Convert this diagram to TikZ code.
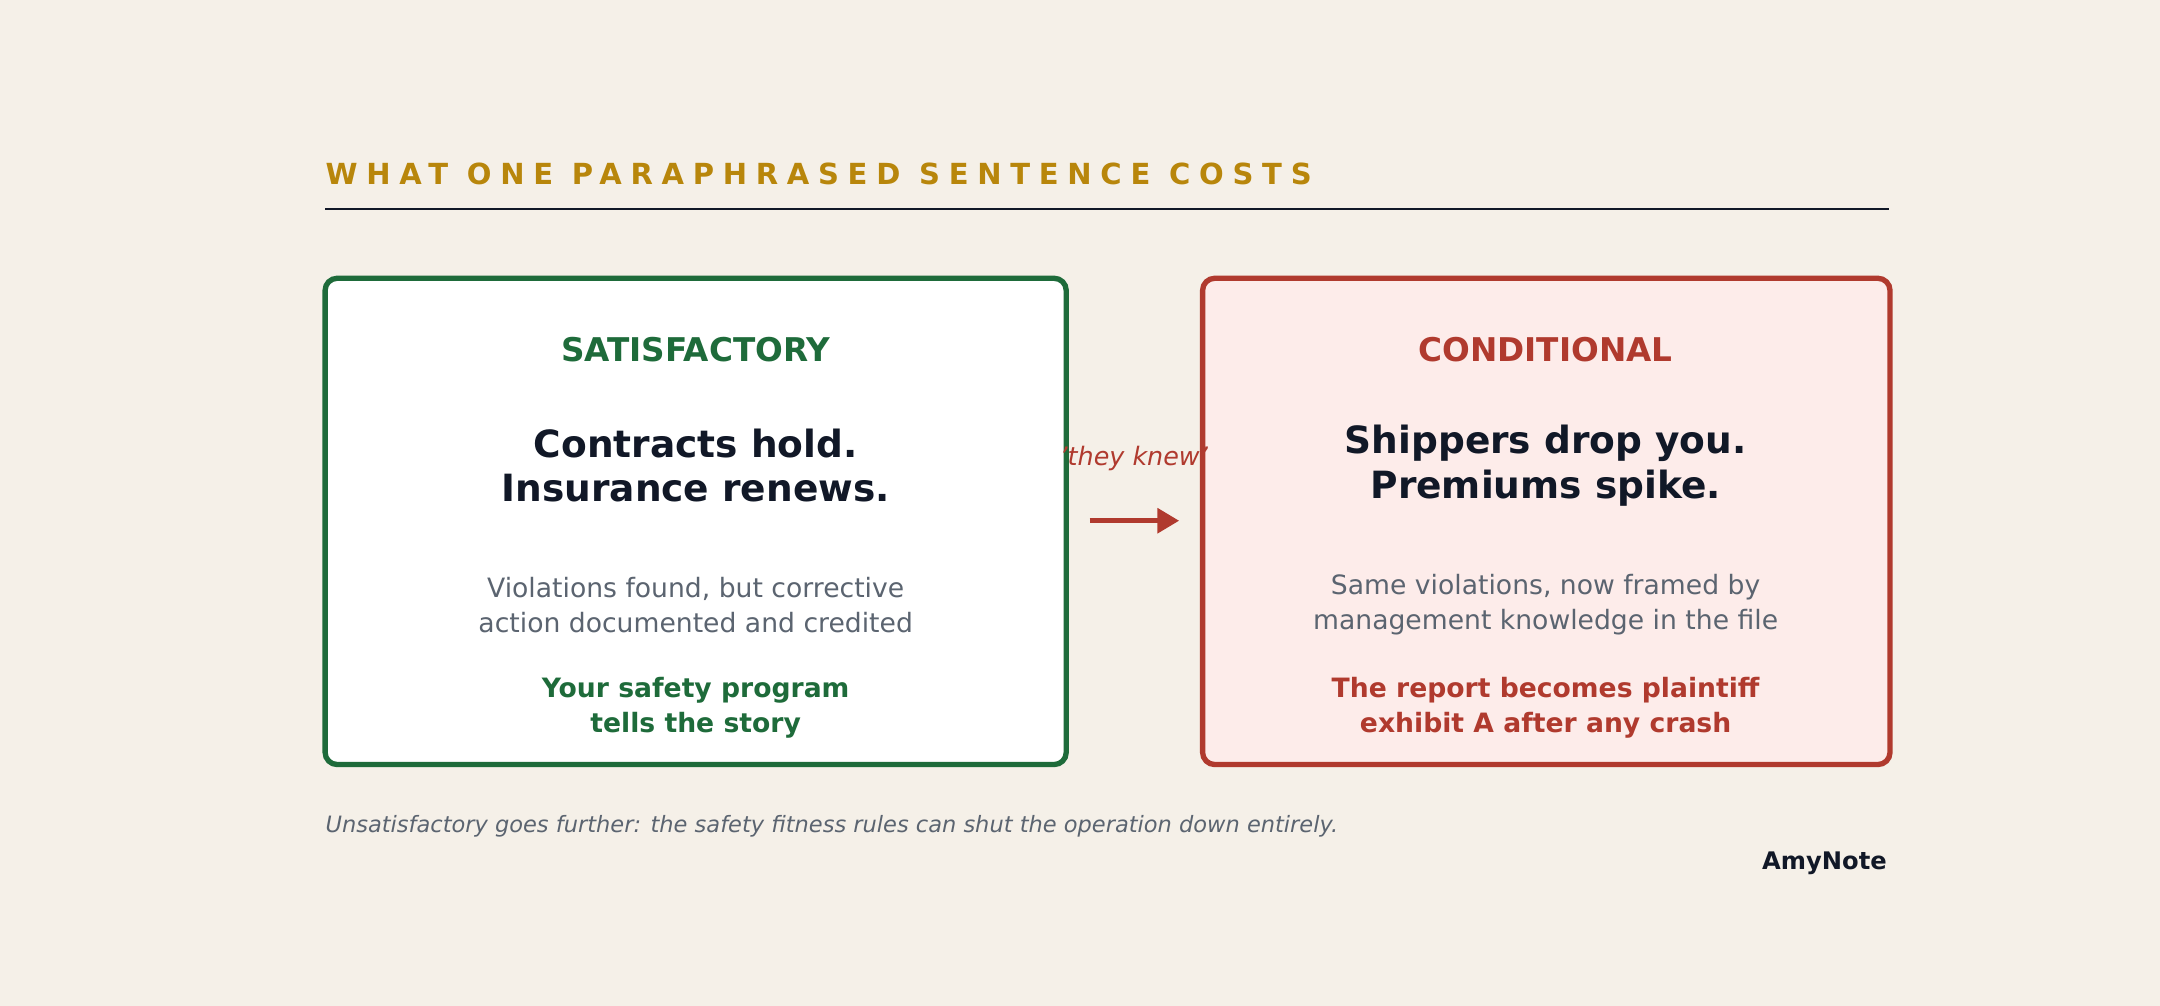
\documentclass[tikz,border=0pt]{standalone}
\usepackage{fontspec}
\setmainfont{DejaVu Sans}
\usetikzlibrary{arrows.meta}
\definecolor{bgcol}{HTML}{F5F0E8}
\definecolor{goldcol}{HTML}{B8860B}
\definecolor{okgreen}{HTML}{1E6B3A}
\definecolor{badred}{HTML}{B03A2E}
\definecolor{pinkfill}{HTML}{FDECEA}
\definecolor{inkcol}{HTML}{111827}
\definecolor{greycol}{HTML}{5B6470}
\begin{document}
\begin{tikzpicture}[x=0.02cm,y=-0.02cm,
    card/.style={draw, line width=2.2pt, rounded corners=5pt},
    head/.style={font=\fontsize{13.5}{16}\selectfont\bfseries},
    big/.style={font=\fontsize{15.5}{18.5}\selectfont\bfseries, text=inkcol, align=center},
    body/.style={font=\fontsize{11}{14.5}\selectfont, text=greycol, align=center},
    punch/.style={font=\fontsize{11}{14.5}\selectfont\bfseries, align=center}]
    \fill[bgcol] (0,0) rectangle (1568,730);
    \useasboundingbox (0,0) rectangle (1568,730);

    % title
    \node[anchor=west, text=goldcol, inner sep=0pt] (title) at (236,126)
        {\fontsize{12}{14}\selectfont\bfseries\addfontfeature{LetterSpace=30}WHAT ONE PARAPHRASED SENTENCE COSTS};
    \coordinate (ruleA) at (236,152);
    \coordinate (ruleB) at (1371,152);
    \draw[line width=0.8pt, inkcol] (ruleA) -- (ruleB);

    % cards
    \draw[card, okgreen, fill=white] (236,202) rectangle (774,555);
    \draw[card, badred, fill=pinkfill] (873,202) rectangle (1372,555);

    \node[head, text=okgreen] (lhead) at (505,254) {SATISFACTORY};
    \node[big] (lbig) at (505,338) {Contracts hold.\\Insurance renews.};
    \node[body] (lbody) at (505,439) {Violations found, but corrective\\action documented and credited};
    \node[punch, text=okgreen] (lpunch) at (505,514) {Your safety program\\tells the story};

    \node[head, text=badred] (rhead) at (1122,254) {CONDITIONAL};
    \node[big] (rbig) at (1122,338) {Shippers drop you.\\Premiums spike.};
    \node[body] (rbody) at (1122,439) {Same violations, now framed by\\management knowledge in the file};
    \node[punch, text=badred] (rpunch) at (1122,514) {The report becomes plaintiff\\exhibit A after any crash};

    % arrow
    \coordinate (arrA) at (791,378);
    \coordinate (arrB) at (856,378);
    \draw[badred, line width=2.2pt, -{Triangle[length=9pt,width=10pt]}] (arrA) -- (arrB);
    \node[text=badred, font=\fontsize{10.5}{13}\selectfont\itshape] (knew) at (823,333) {\symbol{39}they knew\symbol{39}};

    % footer
    \node[anchor=west, text=greycol, inner sep=0pt, font=\fontsize{9.3}{11}\selectfont\itshape] (foot) at (236,600)
        {Unsatisfactory goes further: the safety fitness rules can shut the operation down entirely.};
    \node[anchor=east, text=inkcol, inner sep=0pt, font=\fontsize{10}{12}\selectfont\bfseries] (brand) at (1370,627) {AmyNote};
\end{tikzpicture}
\end{document}
